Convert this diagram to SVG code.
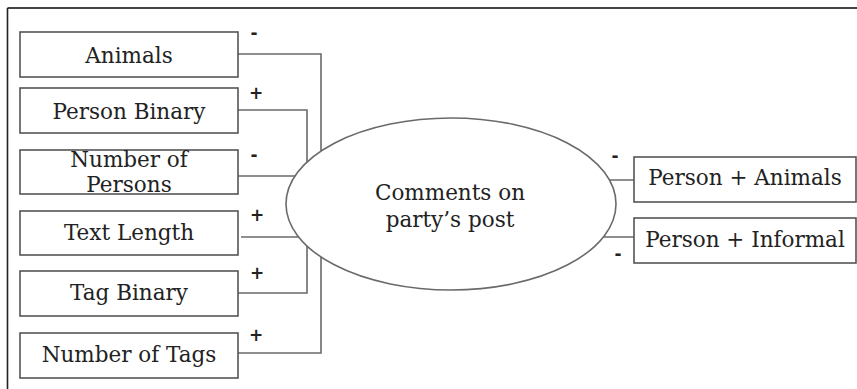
<svg xmlns="http://www.w3.org/2000/svg" width="857" height="389" viewBox="0 0 857 389">
  <style>
    .box { fill: #ffffff; stroke: #555555; stroke-width: 1.6; }
    .lbl { font-family: "DejaVu Serif", "Liberation Serif", serif; font-size: 21.5px; fill: #222222; text-anchor: middle; }
    .sign { font-family: "DejaVu Sans", "Liberation Sans", sans-serif; font-size: 17px; font-weight: bold; fill: #222222; text-anchor: middle; }
    .wire { fill: none; stroke: #6a6a6a; stroke-width: 1.6; }
  </style>
  <rect width="857" height="389" fill="#ffffff"/>

  <!-- outer frame (top and left edges) -->
  <g id="frame">
    <line x1="7.5" y1="8" x2="857" y2="8" stroke="#444444" stroke-width="2"/>
    <line x1="7.5" y1="8" x2="7.5" y2="389" stroke="#222222" stroke-width="1.6"/>
  </g>

  <!-- connectors -->
  <g id="connectors">
    <polyline class="wire" points="238,54 321,54 321,353 238,353"/>
    <polyline class="wire" points="238,110 307,110 307,293 238,293"/>
    <line class="wire" x1="238" y1="176" x2="300" y2="176"/>
    <line class="wire" x1="241" y1="237" x2="305" y2="237"/>
    <line class="wire" x1="600" y1="180" x2="634" y2="180"/>
    <line class="wire" x1="600" y1="237" x2="634" y2="237"/>
  </g>

  <!-- signs -->
  <g id="signs">
    <text class="sign" x="254" y="39">-</text>
    <text class="sign" x="256" y="99">+</text>
    <text class="sign" x="254" y="161">-</text>
    <text class="sign" x="257" y="221">+</text>
    <text class="sign" x="257" y="279">+</text>
    <text class="sign" x="256" y="341">+</text>
    <text class="sign" x="615" y="162">-</text>
    <text class="sign" x="618" y="260">-</text>
  </g>

  <g id="animals">
    <rect class="box" x="20" y="32" width="218" height="45"/>
    <text class="lbl" x="129" y="63">Animals</text>
  </g>
  <g id="person-binary">
    <rect class="box" x="20" y="88" width="218" height="45"/>
    <text class="lbl" x="129" y="119">Person Binary</text>
  </g>
  <g id="number-of-persons">
    <rect class="box" x="20" y="150" width="218" height="44"/>
    <text class="lbl" x="129" y="167">Number of</text>
    <text class="lbl" x="129" y="192">Persons</text>
  </g>
  <g id="text-length">
    <rect class="box" x="20" y="211" width="218" height="44"/>
    <text class="lbl" x="129" y="240">Text Length</text>
  </g>
  <g id="tag-binary">
    <rect class="box" x="20" y="271" width="218" height="45"/>
    <text class="lbl" x="129" y="300">Tag Binary</text>
  </g>
  <g id="number-of-tags">
    <rect class="box" x="20" y="333" width="218" height="45"/>
    <text class="lbl" x="129" y="362">Number of Tags</text>
  </g>

  <g id="comments">
    <ellipse cx="451" cy="204" rx="165" ry="86" fill="#ffffff" stroke="#6a6a6a" stroke-width="1.6"/>
    <text class="lbl" x="450" y="200">Comments on</text>
    <text class="lbl" x="450" y="227">party’s post</text>
  </g>

  <g id="person-animals">
    <rect class="box" x="634" y="157" width="222" height="45"/>
    <text class="lbl" x="745" y="185">Person + Animals</text>
  </g>
  <g id="person-informal">
    <rect class="box" x="634" y="218" width="222" height="45"/>
    <text class="lbl" x="745" y="247">Person + Informal</text>
  </g>
</svg>
